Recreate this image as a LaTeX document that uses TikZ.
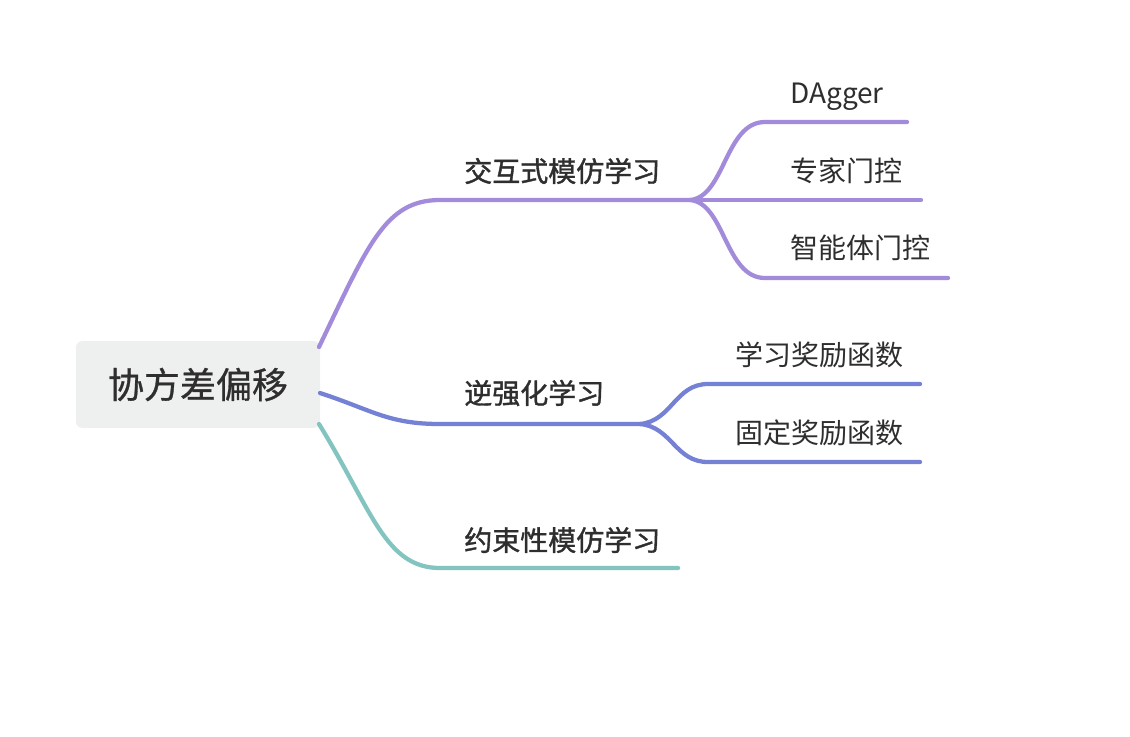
\documentclass[tikz,border=0pt]{standalone}
\usepackage{fontspec}
\setmainfont{Noto Sans CJK SC}
\newfontfamily\medfont[FakeBold=1.3]{Noto Sans CJK SC}
\newfontfamily\rootfont[FakeBold=0.8]{Noto Sans CJK SC}
\usepackage{tikz}
\usetikzlibrary{positioning,calc}

\definecolor{rootfill}{HTML}{EEF0EF}
\definecolor{inkgrey}{HTML}{2E2E2E}
\definecolor{purplebr}{HTML}{A38BDB}
\definecolor{bluebr}{HTML}{7581D4}
\definecolor{tealbr}{HTML}{84C4C0}

\tikzset{
    rootbox/.style={fill=rootfill, rounded corners=4.5pt, minimum width=183pt, minimum height=65pt, inner sep=0pt, text=inkgrey, font=\rootfont\fontsize{27}{30}\selectfont},
    branchtxt/.style={anchor=west, inner sep=0pt, text=inkgrey, font=\medfont\fontsize{21}{24}\selectfont},
    leaftxt/.style={anchor=west, inner sep=0pt, text=inkgrey, font=\fontsize{21}{24}\selectfont},
    limb/.style={line width=3.2pt, line cap=round}
}

\begin{document}
\begin{tikzpicture}[x=0.75pt, y=-0.75pt]
    \useasboundingbox (0, 0) rectangle (1130, 736);

    % root
    \node[rootbox] (root) at (198, 384.5) {协方差偏移};

    % branch labels
    \node[branchtxt] (imit) at (464, 171) {交互式模仿学习};
    \node[branchtxt] (irl) at (464, 393) {逆强化学习};
    \node[branchtxt] (cons) at (464, 540) {约束性模仿学习};

    % leaf labels
    \node[leaftxt] (dagger) at (790, 97) {DAgger};
    \node[leaftxt] (expert) at (790, 171) {专家门控};
    \node[leaftxt] (agent) at (790, 248) {智能体门控};
    \node[leaftxt] (learn) at (735, 355) {学习奖励函数};
    \node[leaftxt] (fixed) at (735, 433) {固定奖励函数};

    % line ends
    \coordinate (rA) at (319, 347);
    \coordinate (rB) at (320, 393);
    \coordinate (rC) at (319, 424);
    \coordinate (forkA) at (690, 200);
    \coordinate (forkB) at (640, 424);
    \coordinate (endC) at (678, 568);
    \coordinate (endA1) at (907, 122);
    \coordinate (endA2) at (921, 200);
    \coordinate (endA3) at (948, 278);
    \coordinate (endB1) at (920, 384);
    \coordinate (endB2) at (920, 462);

    % root to branches
    \draw[limb, purplebr] (rA) .. controls (368, 245) and (385, 200) .. (440, 200) -- (forkA);
    \draw[limb, bluebr] (rB) .. controls (372, 410) and (388, 424) .. (440, 424) -- (forkB);
    \draw[limb, tealbr] (rC) .. controls (372, 510) and (385, 568) .. (440, 568) -- (endC);

    % branches to leaves
    \draw[limb, purplebr] (forkA) .. controls (725, 197) and (725, 122) .. (765, 122) -- (endA1);
    \draw[limb, purplebr] (forkA) -- (endA2);
    \draw[limb, purplebr] (forkA) .. controls (725, 203) and (725, 278) .. (765, 278) -- (endA3);
    \draw[limb, bluebr] (forkB) .. controls (672, 421) and (675, 384) .. (708, 384) -- (endB1);
    \draw[limb, bluebr] (forkB) .. controls (672, 427) and (675, 462) .. (708, 462) -- (endB2);
\end{tikzpicture}
\end{document}
